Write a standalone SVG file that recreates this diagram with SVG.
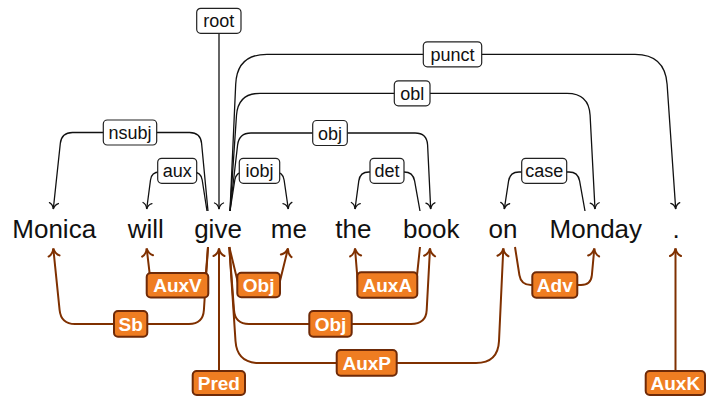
<svg xmlns="http://www.w3.org/2000/svg" width="706" height="396" viewBox="0 0 706 396">
<defs>
<style>
.word{font-family:"Liberation Sans",Arial,sans-serif;font-size:26px;fill:#111;text-anchor:middle}
.ud path.e{fill:none;stroke:#111;stroke-width:1.3}
.ud rect{fill:#fff;stroke:#222;stroke-width:1.2}
.ud text{font-family:"Liberation Sans",Arial,sans-serif;font-size:18px;fill:#111;text-anchor:middle}
.pd path.e{fill:none;stroke:#7f3000;stroke-width:2}
.pd rect{fill:#ef7d22;stroke:#6e2a08;stroke-width:2}
.pd text{font-family:"Liberation Sans",Arial,sans-serif;font-size:19px;font-weight:bold;fill:#fff;text-anchor:middle}
</style>
<marker id="ab" viewBox="-9 -7 11 14" refX="0" refY="0" markerWidth="11" markerHeight="14" markerUnits="userSpaceOnUse" orient="auto" overflow="visible">
<path d="M-6,-4.5 C-5,-1.8 -2,-0.4 0,0 C-2,0.4 -5,1.8 -6,4.5" fill="none" stroke="#111" stroke-width="1.3" stroke-linecap="round"/>
</marker>
<marker id="ao" viewBox="-10 -8 12 16" refX="0" refY="0" markerWidth="12" markerHeight="16" markerUnits="userSpaceOnUse" orient="auto" overflow="visible">
<path d="M-7.5,-5.5 C-6,-2.2 -2.5,-0.5 0,0 C-2.5,0.5 -6,2.2 -7.5,5.5" fill="none" stroke="#7f3000" stroke-width="2" stroke-linecap="round"/>
</marker>
</defs>
<rect width="706" height="396" fill="#fff"/>

<g id="connectors">
<g class="ud">
<g id="e-root"><path class="e" d="M219,33.3 L219,209" marker-end="url(#ab)"/><rect x="196.7" y="8.3" width="44.3" height="25" rx="4"/><text x="218.85" y="27.3">root</text></g>
<g id="e-punct"><path class="e" d="M230,211 L235.7,84.3 Q237,54.3 267,54.3 L635,54.3 Q665,54.3 667.1,84.2 L675.7,209" marker-end="url(#ab)"/><rect x="423.3" y="41.8" width="58.4" height="25" rx="4"/><text x="452.5" y="60.8">punct</text></g>
<g id="e-obl"><path class="e" d="M230,211 L236.5,115.3 Q238,93.3 260,93.3 L567,93.3 Q589,93.3 590.1,115.3 L595,209" marker-end="url(#ab)"/><rect x="394.3" y="80.8" width="35.7" height="25" rx="4"/><text x="412.15" y="99.8">obl</text></g>
<g id="e-nsubj"><path class="e" d="M208,211 L201.6,143.5 Q200.6,132.5 189.6,132.5 L72.5,132.5 Q61.5,132.5 60.3,143.5 L53.3,209" marker-end="url(#ab)"/><rect x="103.3" y="120" width="53.4" height="25" rx="4"/><text x="130" y="139">nsubj</text></g>
<g id="e-obj"><path class="e" d="M230,211 L237.6,145 Q239,133 251,133 L415,133 Q427,133 427.6,145 L430.7,209" marker-end="url(#ab)"/><rect x="312.7" y="120.5" width="34.6" height="25" rx="4"/><text x="330" y="139.5">obj</text></g>
<g id="e-aux"><path class="e" d="M207,211 L202.2,180 Q201,172 193,172 L159.5,172 Q151.5,172 150.5,180 L146.7,209" marker-end="url(#ab)"/><rect x="157.7" y="158.3" width="39" height="25" rx="4"/><text x="177.2" y="177.3">aux</text></g>
<g id="e-iobj"><path class="e" d="M230,211 L234.8,180 Q236,172 244,172 L275,172 Q283,172 284.1,180 L288.3,209" marker-end="url(#ab)"/><rect x="239.3" y="158.3" width="40.4" height="25" rx="4"/><text x="259.5" y="177.3">iobj</text></g>
<g id="e-det"><path class="e" d="M420,211 L414.6,180.9 Q413,172 404,172 L369,172 Q360,172 358.8,180.9 L355,209" marker-end="url(#ab)"/><rect x="370" y="158.3" width="34" height="25" rx="4"/><text x="387" y="177.3">det</text></g>
<g id="e-case"><path class="e" d="M585,211 L579.6,180.9 Q578,172 569,172 L519,172 Q510,172 508.6,180.9 L504.3,209" marker-end="url(#ab)"/><rect x="521.7" y="158.3" width="45" height="25" rx="4"/><text x="544.2" y="177.3">case</text></g>
</g>
<g class="pd">
<g id="e-Pred"><path class="e" d="M219,371 L219,248.5" marker-end="url(#ao)"/><rect x="192.7" y="371" width="52.3" height="24" rx="4"/><text x="218.85" y="389.8">Pred</text></g>
<g id="e-AuxK"><path class="e" d="M675.5,371 L675.5,248.5" marker-end="url(#ao)"/><rect x="645.7" y="371" width="59.3" height="24" rx="4"/><text x="675.35" y="389.8">AuxK</text></g>
<g id="e-Sb"><path class="e" d="M208,247 L203.9,310 Q203,324 189,324 L75,324 Q61,324 59.6,310 L53.3,248.5" marker-end="url(#ao)"/><rect x="114" y="311" width="33.3" height="25.7" rx="4"/><text x="130.65" y="330.6">Sb</text></g>
<g id="e-AuxV"><path class="e" d="M208,247 L205,285 L151,285 L146.7,248.5" marker-end="url(#ao)"/><rect x="146.7" y="273" width="61.6" height="24.5" rx="4"/><text x="177.5" y="292">AuxV</text></g>
<g id="e-Obj1"><path class="e" d="M229.3,247 L238.5,285 L279,285 L288,248.5" marker-end="url(#ao)"/><rect x="237.3" y="272.7" width="42.7" height="24.6" rx="4"/><text x="258.65" y="291.8">Obj</text></g>
<g id="e-AuxA"><path class="e" d="M420,247 L416,285 L358,285 L355,248.5" marker-end="url(#ao)"/><rect x="357.3" y="272.3" width="60" height="25.4" rx="4"/><text x="387.3" y="291.8">AuxA</text></g>
<g id="e-Obj2"><path class="e" d="M229.3,247 L234,310 Q235,324 249,324 L411,324 Q426,324 426.7,310 L430,248.5" marker-end="url(#ao)"/><rect x="309.3" y="311" width="42.4" height="25.7" rx="4"/><text x="330.5" y="330.6">Obj</text></g>
<g id="e-AuxP"><path class="e" d="M229.3,247 L235.5,341 Q237,363 259,363 L476,363 Q498,363 499,341 L503.3,248.5" marker-end="url(#ao)"/><rect x="336.7" y="350" width="60" height="25.7" rx="4"/><text x="366.7" y="369.6">AuxP</text></g>
<g id="e-Adv"><path class="e" d="M515,247 L519.4,275.1 Q521,285 531,285 L581,285 Q591,285 591.9,275 L594.3,248.5" marker-end="url(#ao)"/><rect x="532.3" y="272.3" width="45" height="25.4" rx="4"/><text x="554.8" y="291.8">Adv</text></g>
</g>
</g>

<g id="w-Monica"><text class="word" x="54.2" y="237.5">Monica</text></g>
<g id="w-will"><text class="word" x="145.8" y="237.5">will</text></g>
<g id="w-give"><text class="word" x="218" y="237.5">give</text></g>
<g id="w-me"><text class="word" x="288.8" y="237.5">me</text></g>
<g id="w-the"><text class="word" x="353.3" y="237.5">the</text></g>
<g id="w-book"><text class="word" x="431.3" y="237.5">book</text></g>
<g id="w-on"><text class="word" x="503" y="237.5">on</text></g>
<g id="w-Monday"><text class="word" x="595.8" y="237.5">Monday</text></g>
<g id="w-dot"><text class="word" x="676" y="237.5">.</text></g>
</svg>
